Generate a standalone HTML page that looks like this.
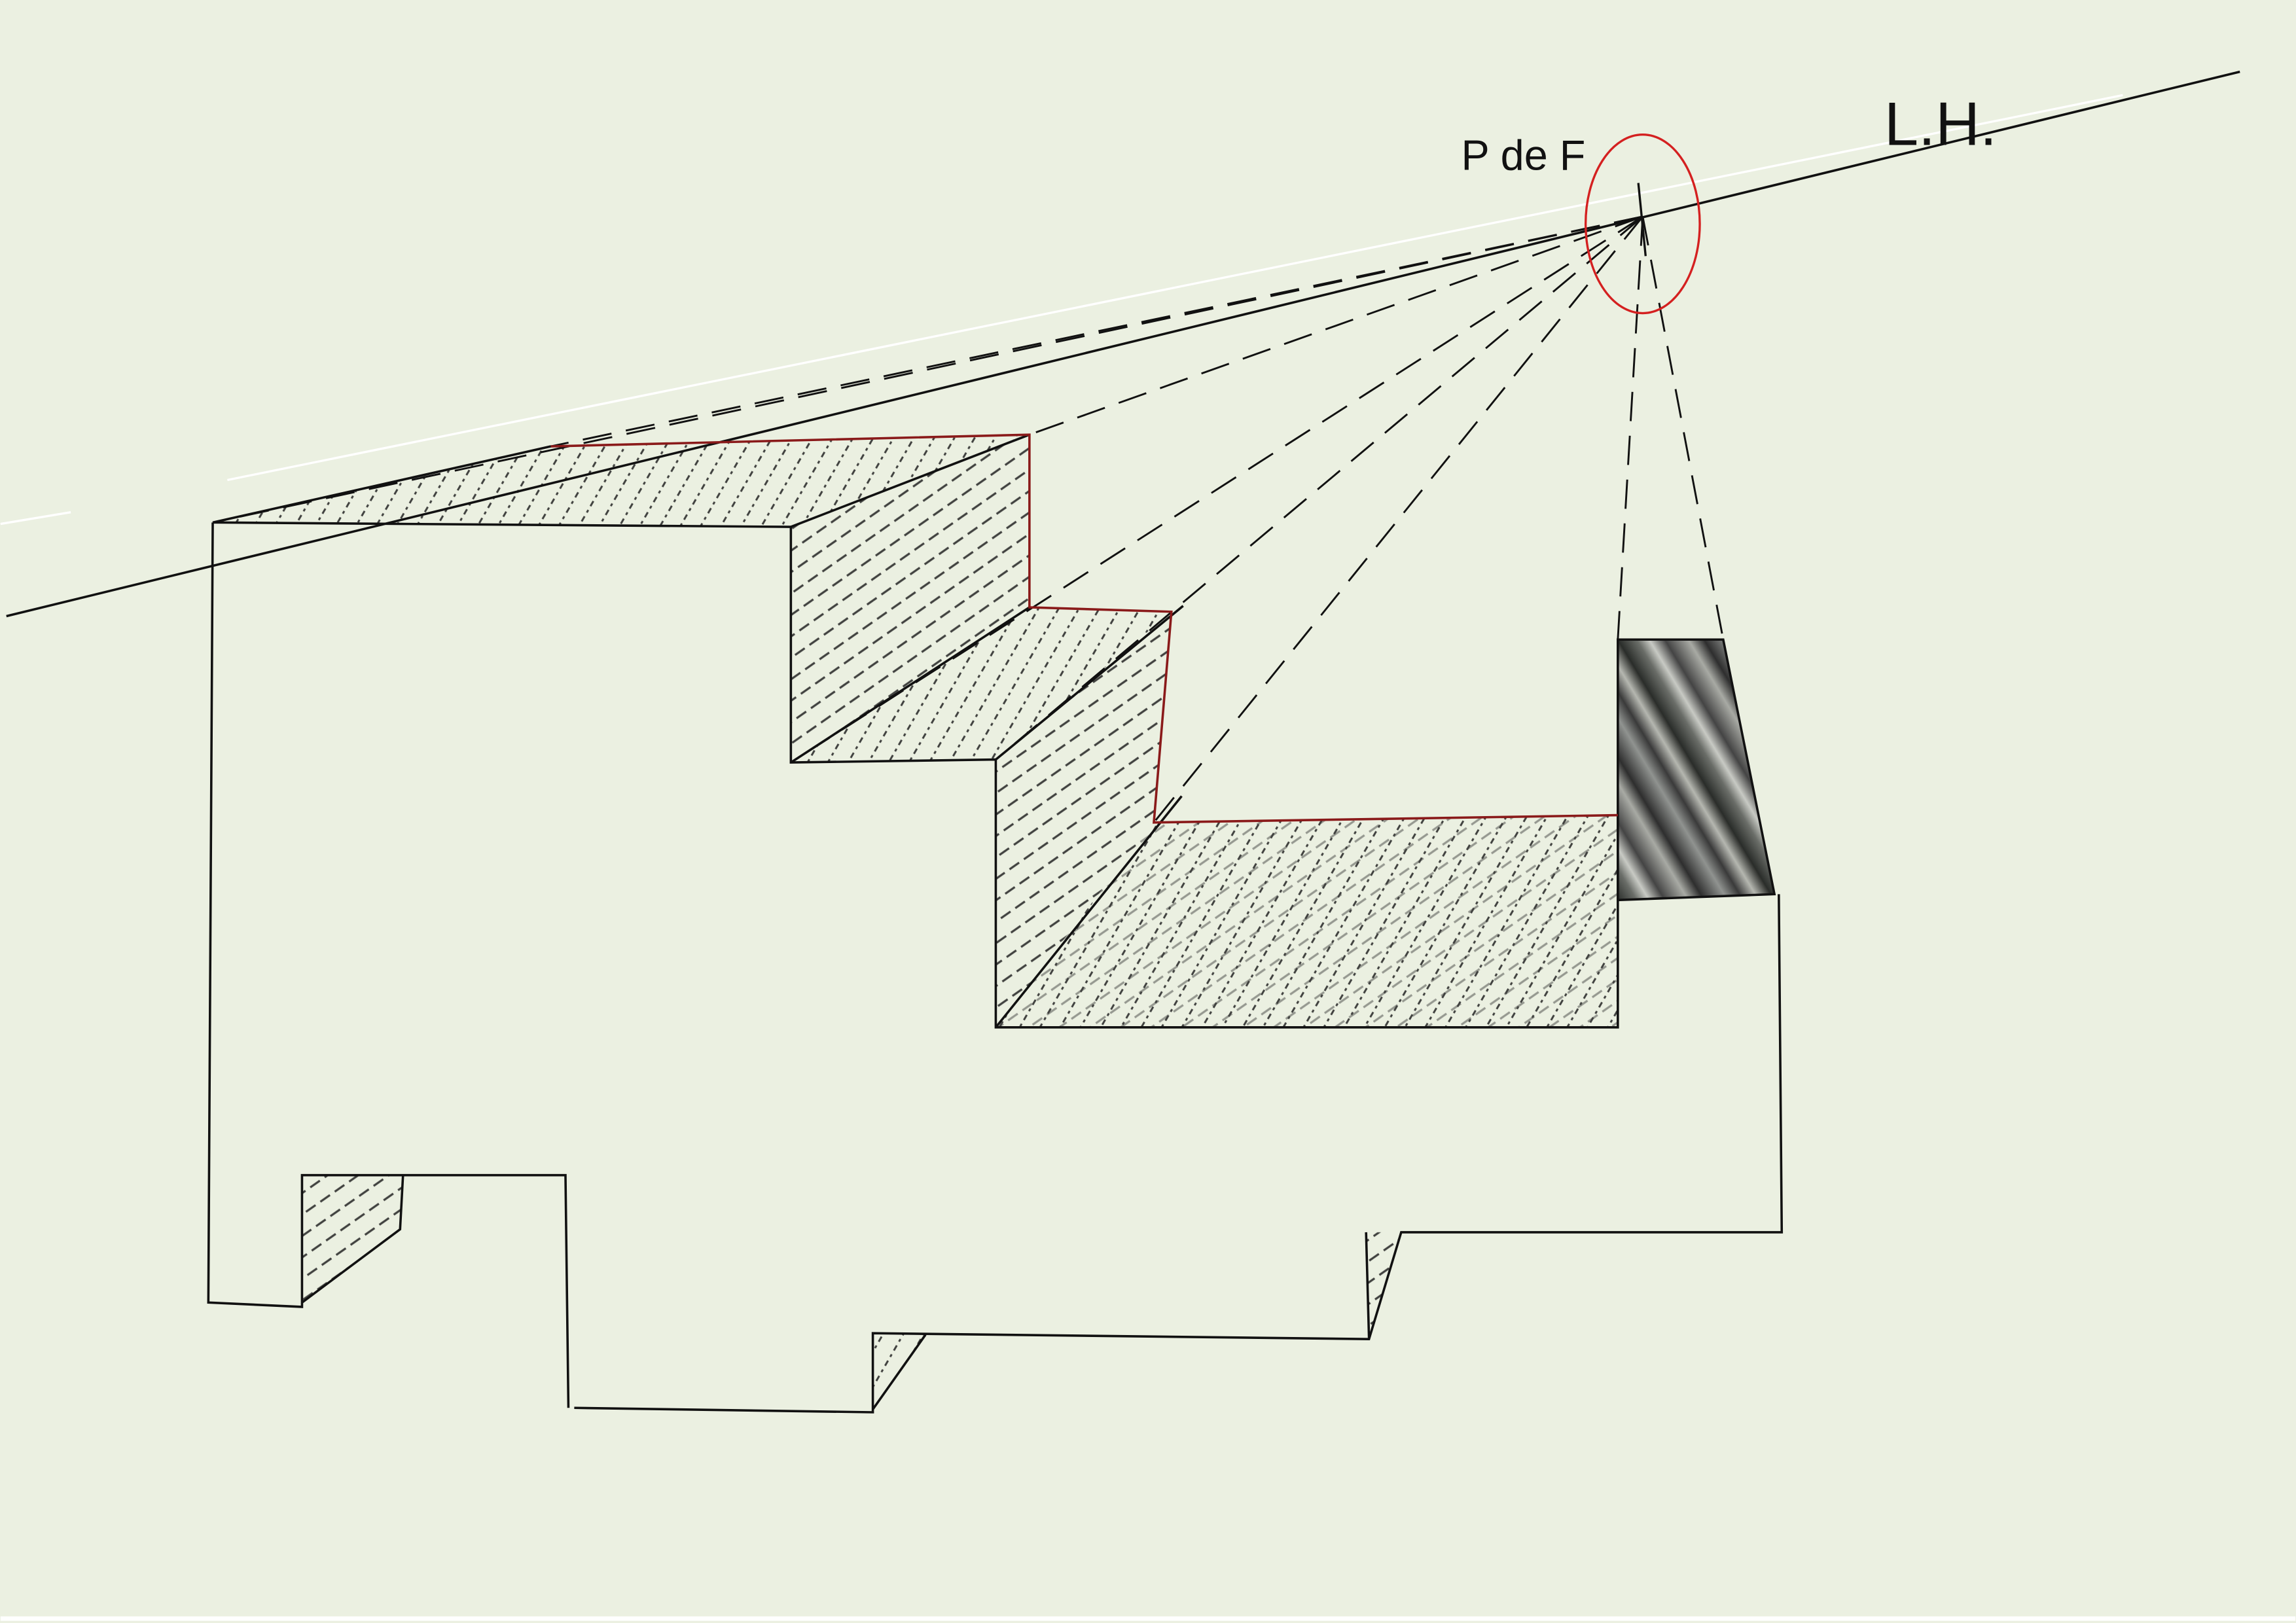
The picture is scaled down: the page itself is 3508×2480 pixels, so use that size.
<!DOCTYPE html>
<html><head><meta charset="utf-8"><style>
html,body{margin:0;padding:0;background:#ebf0e1;}
svg{display:block;}
</style></head><body>
<svg width="3508" height="2480" viewBox="0 0 1568 1109" xmlns="http://www.w3.org/2000/svg">
<defs>
<pattern id="h" width="12" height="12" patternUnits="userSpaceOnUse" patternTransform="rotate(-60)">
<line x1="0" y1="6" x2="12" y2="6" stroke="#222" stroke-width="1.3" stroke-dasharray="2 3"/>
</pattern>
<pattern id="h2" width="12" height="12" patternUnits="userSpaceOnUse" patternTransform="rotate(-35)">
<line x1="0" y1="6" x2="12" y2="6" stroke="#222" stroke-width="1.4" stroke-dasharray="4 4"/>
</pattern>
<linearGradient id="g" x1="0" y1="0" x2="0.5" y2="-0.5" spreadMethod="repeat">
<stop offset="0" stop-color="#2a2d2a"/><stop offset="0.12" stop-color="#6a6d68"/>
<stop offset="0.2" stop-color="#c8cac4"/><stop offset="0.3" stop-color="#444"/>
<stop offset="0.45" stop-color="#a8aaa4"/><stop offset="0.55" stop-color="#2e2e2e"/>
<stop offset="0.7" stop-color="#909390"/><stop offset="0.8" stop-color="#3a3a3a"/>
<stop offset="0.9" stop-color="#b5b7b0"/><stop offset="1" stop-color="#2a2c29"/>
</linearGradient>
</defs>
<rect width="1568" height="1109" fill="#ebf0e1"/>
<line x1="0" y1="1106" x2="1568" y2="1106" stroke="#fff" stroke-width="3"/>
<line x1="0" y1="358" x2="48" y2="350" stroke="#fff" stroke-width="1.5"/>
<line x1="155" y1="328" x2="1450" y2="65" stroke="#fff" stroke-width="1.5"/>
<g stroke="none" opacity="0.85">
<polygon points="145,357 376,305 703,297 540,360" fill="url(#h)"/>
<polygon points="540,360 703,297 703,415 540,521" fill="url(#h2)"/>
<polygon points="540,521 703,415 800,418 680,519" fill="url(#h)"/>
<polygon points="680,519 800,418 788,562 680,702" fill="url(#h2)"/>
<polygon points="680,702 788,562 1105,557 1105,702" fill="url(#h)"/>
<polygon points="680,702 788,562 1105,557 1105,702" fill="url(#h2)" opacity="0.5"/>
<polygon points="206,803 275,803 273,840 206,890" fill="url(#h2)"/>
<polygon points="596,911 632,912 596,963" fill="url(#h)"/>
<polygon points="933,842 957,842 935,915" fill="url(#h2)"/>
</g>
<polygon points="1105,437 1177,437 1212,611 1105,615" fill="url(#g)"/>
<line x1="4" y1="421" x2="1530" y2="49" stroke="#111" stroke-width="1.6"/>
<g stroke="#111" stroke-width="1.3" fill="none" stroke-dasharray="20 10">
<line x1="1122" y1="148" x2="145" y2="357"/>
<line x1="1122" y1="148" x2="376" y2="305"/>
<line x1="1122" y1="148" x2="703" y2="297"/>
<line x1="1122" y1="148" x2="540" y2="521"/>
<line x1="1122" y1="148" x2="680" y2="519"/>
<line x1="1122" y1="148" x2="788" y2="562"/>
<line x1="1122" y1="148" x2="1105" y2="437"/>
<line x1="1122" y1="148" x2="1177" y2="437"/>
</g>
<g stroke="#111" stroke-width="1.6" fill="none">
<polyline points="145,357 540,360 540,521 680,519 680,702 1105,702 1105,557"/>
<line x1="145" y1="357" x2="376" y2="305"/>
<line x1="540" y1="360" x2="703" y2="297"/>
<line x1="540" y1="521" x2="703" y2="415"/>
<line x1="680" y1="519" x2="808" y2="414"/>
<line x1="680" y1="702" x2="807" y2="544"/>
<polyline points="1105,615 1105,437 1177,437 1212,611 1105,615"/>
<polyline points="145,357 142,890 206,893 206,803 386,803 388,962"/>
<polyline points="392,962 596,965 596,911 935,915 957,842 1217,842 1215,611"/>
<polyline points="206,890 273,840 275,803"/>
<line x1="596" y1="963" x2="632" y2="912"/>
<line x1="933" y1="842" x2="935" y2="915"/>
</g>
<g stroke="#8a1a1a" stroke-width="1.6" fill="none">
<polyline points="376,305 703,297 703,415 800,418 788,562 1105,557"/>
</g>
<line x1="1119" y1="125" x2="1124" y2="175" stroke="#111" stroke-width="1.5"/>
<ellipse cx="1122" cy="153" rx="39" ry="61" fill="none" stroke="#d42020" stroke-width="1.5"/>
<text x="998" y="116" font-family="Liberation Sans, sans-serif" font-size="29" fill="#111">P de F</text>
<text x="1287" y="99" font-family="Liberation Sans, sans-serif" font-size="42" fill="#111">L.H.</text>
</svg>
</body></html>
